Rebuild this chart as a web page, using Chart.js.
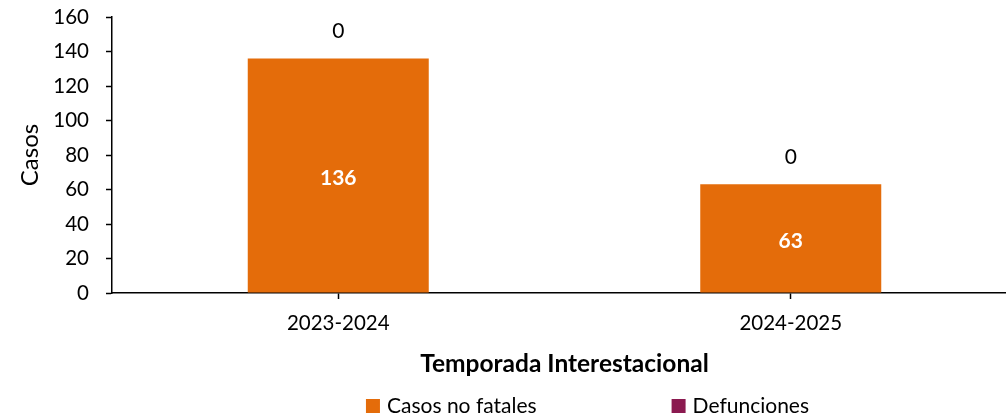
<!DOCTYPE html>
<html lang="es">
<head>
    <meta charset="UTF-8">
    <title>Casos por temporada interestacional</title>
    <script src="https://cdn.jsdelivr.net/npm/chart.js"></script>
    <style>
        html, body {
            margin: 0;
            padding: 0;
            background: #fff;
            overflow: hidden;
        }
        .wrap {
            width: 1006px;
            height: 416px;
            overflow: hidden;
        }
        .box {
            width: 1017px;
            height: 416px;
        }
    </style>
</head>
<body>

<div class="wrap">
    <div class="box">
        <canvas id="casosChart"></canvas>
    </div>
</div>

<script>
    const temporadas = ['2023-2024', '2024-2025'];
    const casosNoFatales = [136, 63];
    const defunciones = [0, 0];
    const yTicks = { min: 0, max: 160, step: 20 };

    const FONT = 'Lato, "Open Sans", sans-serif';

    // etiquetas de datos: blancas dentro de la barra, y el 0 de defunciones encima
    const etiquetas = {
        id: 'etiquetas',
        afterDatasetsDraw(chart) {
            const ctx = chart.ctx;
            ctx.save();
            ctx.textAlign = 'center';
            ctx.textBaseline = 'middle';

            chart.getDatasetMeta(0).data.forEach((bar, i) => {
                ctx.font = 'bold 21px ' + FONT;
                ctx.fillStyle = '#ffffff';
                ctx.fillText(casosNoFatales[i], bar.x, (bar.y + bar.base) / 2 + 2.5);
            });

            chart.getDatasetMeta(1).data.forEach((bar, i) => {
                ctx.font = '21px ' + FONT;
                ctx.fillStyle = '#000000';
                ctx.fillText(defunciones[i], bar.x, bar.y - 27);
            });
            ctx.restore();
        }
    };

    // leyenda dibujada a mano, como la de Excel (items muy separados)
    const leyenda = {
        id: 'leyenda',
        afterDraw(chart) {
            const ctx = chart.ctx;
            const area = chart.chartArea;
            const caja = 14, sep = 7, hueco = 135;
            const y = 406;
            ctx.save();
            ctx.font = '21px ' + FONT;
            ctx.textBaseline = 'middle';
            ctx.textAlign = 'left';
            const items = chart.data.datasets.map(ds => ({
                text: ds.label,
                color: ds.backgroundColor,
                w: caja + sep + ctx.measureText(ds.label).width
            }));
            const total = items.reduce((s, it) => s + it.w, 0) + hueco * (items.length - 1);
            let x = (area.left + area.right) / 2 + 23 - total / 2;
            items.forEach(it => {
                ctx.fillStyle = it.color;
                ctx.fillRect(x, y - caja / 2, caja, caja);
                ctx.fillStyle = '#000';
                ctx.fillText(it.text, x + caja + sep, y);
                x += it.w + hueco;
            });
            ctx.restore();
        }
    };

    new Chart(document.getElementById('casosChart'), {
        type: 'bar',
        data: {
            labels: temporadas,
            datasets: [
                {
                    label: 'Casos no fatales',
                    data: casosNoFatales,
                    backgroundColor: '#E46C0A'
                },
                {
                    label: 'Defunciones',
                    data: defunciones,
                    backgroundColor: '#8B1A50'
                }
            ]
        },
        options: {
            responsive: true,
            maintainAspectRatio: false,
            animation: false,
            datasets: {
                bar: {
                    barPercentage: 1,
                    categoryPercentage: 0.4
                }
            },
            layout: {
                padding: { top: 17, left: 0, right: 0, bottom: 0 }
            },
            plugins: {
                tooltip: { enabled: false },
                legend: { display: false }
            },
            scales: {
                x: {
                    stacked: true,
                    afterFit(scale) { scale.height = 123; },
                    grid: {
                        offset: false,
                        drawOnChartArea: false,
                        color: '#000',
                        tickLength: 6,
                        tickWidth: 1.5
                    },
                    border: { color: '#000', width: 1.5 },
                    ticks: {
                        color: '#000',
                        padding: 12,
                        font: { family: FONT, size: 20.5 }
                    },
                    title: {
                        display: true,
                        text: 'Temporada Interestacional',
                        color: '#000',
                        padding: { top: 0, bottom: 37 },
                        font: { family: FONT, size: 24.5, weight: 'bold' }
                    }
                },
                y: {
                    stacked: true,
                    min: yTicks.min,
                    max: yTicks.max,
                    afterFit(scale) {
                        scale.width = 112;
                        scale.paddingTop = 0;
                    },
                    grid: {
                        drawOnChartArea: false,
                        color: '#000',
                        tickLength: 6,
                        tickWidth: 1.5
                    },
                    border: { color: '#000', width: 1.5 },
                    ticks: {
                        stepSize: yTicks.step,
                        autoSkip: false,
                        color: '#000',
                        padding: 17,
                        font: { family: FONT, size: 20.5 }
                    },
                    title: {
                        display: true,
                        text: 'Casos',
                        color: '#000',
                        padding: { top: 16, bottom: 0 },
                        font: { family: FONT, size: 24 }
                    }
                }
            }
        },
        plugins: [etiquetas, leyenda]
    });
</script>

</body>
</html>
